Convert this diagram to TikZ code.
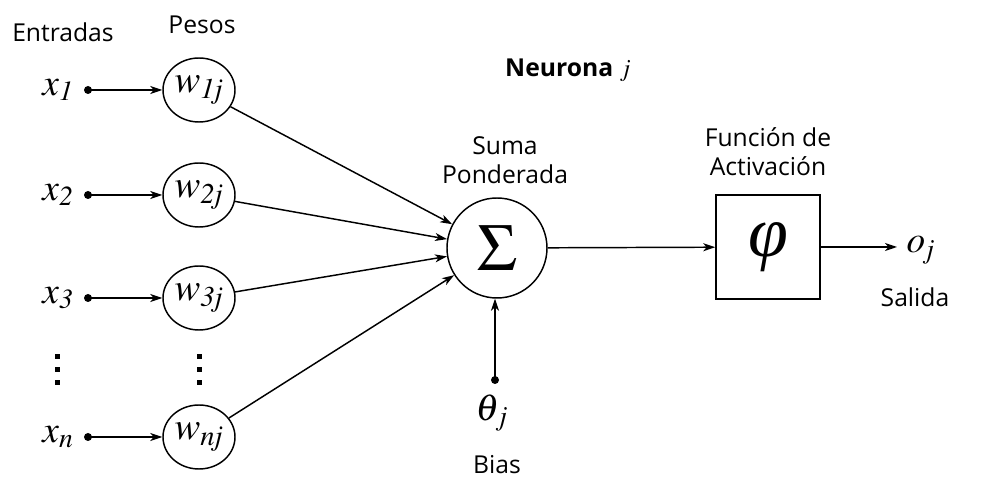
\documentclass[tikz,border=0pt]{standalone}
\usepackage{mathptmx}
\usepackage[no-math]{fontspec}
\setmainfont{Open Sans}
\newfontfamily\serifgr{Liberation Serif}
\usetikzlibrary{arrows.meta,shapes.geometric}
\begin{document}
\begin{tikzpicture}[x=0.75pt,y=-0.75pt,line width=1.1pt,
  txt/.style={font=\fontsize{18.5}{22}\selectfont,align=center},
  mth/.style={font=\fontsize{28}{30}\selectfont,inner sep=0pt},
  peso/.style={ellipse,draw,minimum width=54pt,minimum height=48pt,inner sep=0pt,font=\fontsize{29}{30}\selectfont},
  flecha/.style={-{Stealth[length=9pt,width=6pt,inset=2.5pt]}}]
\useasboundingbox (0,0) rectangle (1001,491);

\node[txt] (entradas) at (63,32) {Entradas};
\node[txt] (pesos) at (202,25) {Pesos};
\node[txt] (neurona) at (568,70) {\textbf{Neurona} $j$};

\node[circle,draw,minimum size=75pt,inner sep=0pt,font=\fontsize{50}{52}\selectfont] (suma) at (497,248) {$\Sigma$};
\node[txt] (sumalbl) at (505,160) {Suma\\Ponderada};

\foreach \i/\y in {1/90,2/195,3/298,n/437}{
  \node[mth] (x\i) at (58,\y) {$x_{\mathit{\i}}$};
  \coordinate (d\i) at (88,\y);
  \fill (d\i) circle (3pt);
  \node[peso] (w\i) at (199,\y) {$w_{\mathit{\i j}}$};
  \draw[flecha] (d\i) -- (w\i);
  \draw[flecha] (w\i) -- (suma);
}
\foreach \x in {57,199}
  \foreach \y in {357,370,383}
    \fill (\x-2.5,\y-2.5) rectangle ++(5,5);

\coordinate (b) at (495,380);
\fill (b) circle (3pt);
\draw[flecha] (b) -- (b |- suma.south);
\node[mth] (theta) at (492,413) {$\theta_j$};
\node[txt] (bias) at (497,465) {Bias};

\node[draw,minimum size=78pt,inner sep=0pt,font=\fontsize{54}{56}\selectfont] (fun) at (768,247) {\serifgr\itshape φ};
\node[txt] (funlbl) at (768,152) {Función de\\Activación};
\draw[flecha] (suma) -- (fun);

\coordinate (out) at (897,247);
\draw[flecha] (fun) -- (out);
\node[mth,anchor=west] (o) at (906,250) {$o_{\!j}$};
\node[txt] (salida) at (915,297) {Salida};
\end{tikzpicture}
\end{document}
